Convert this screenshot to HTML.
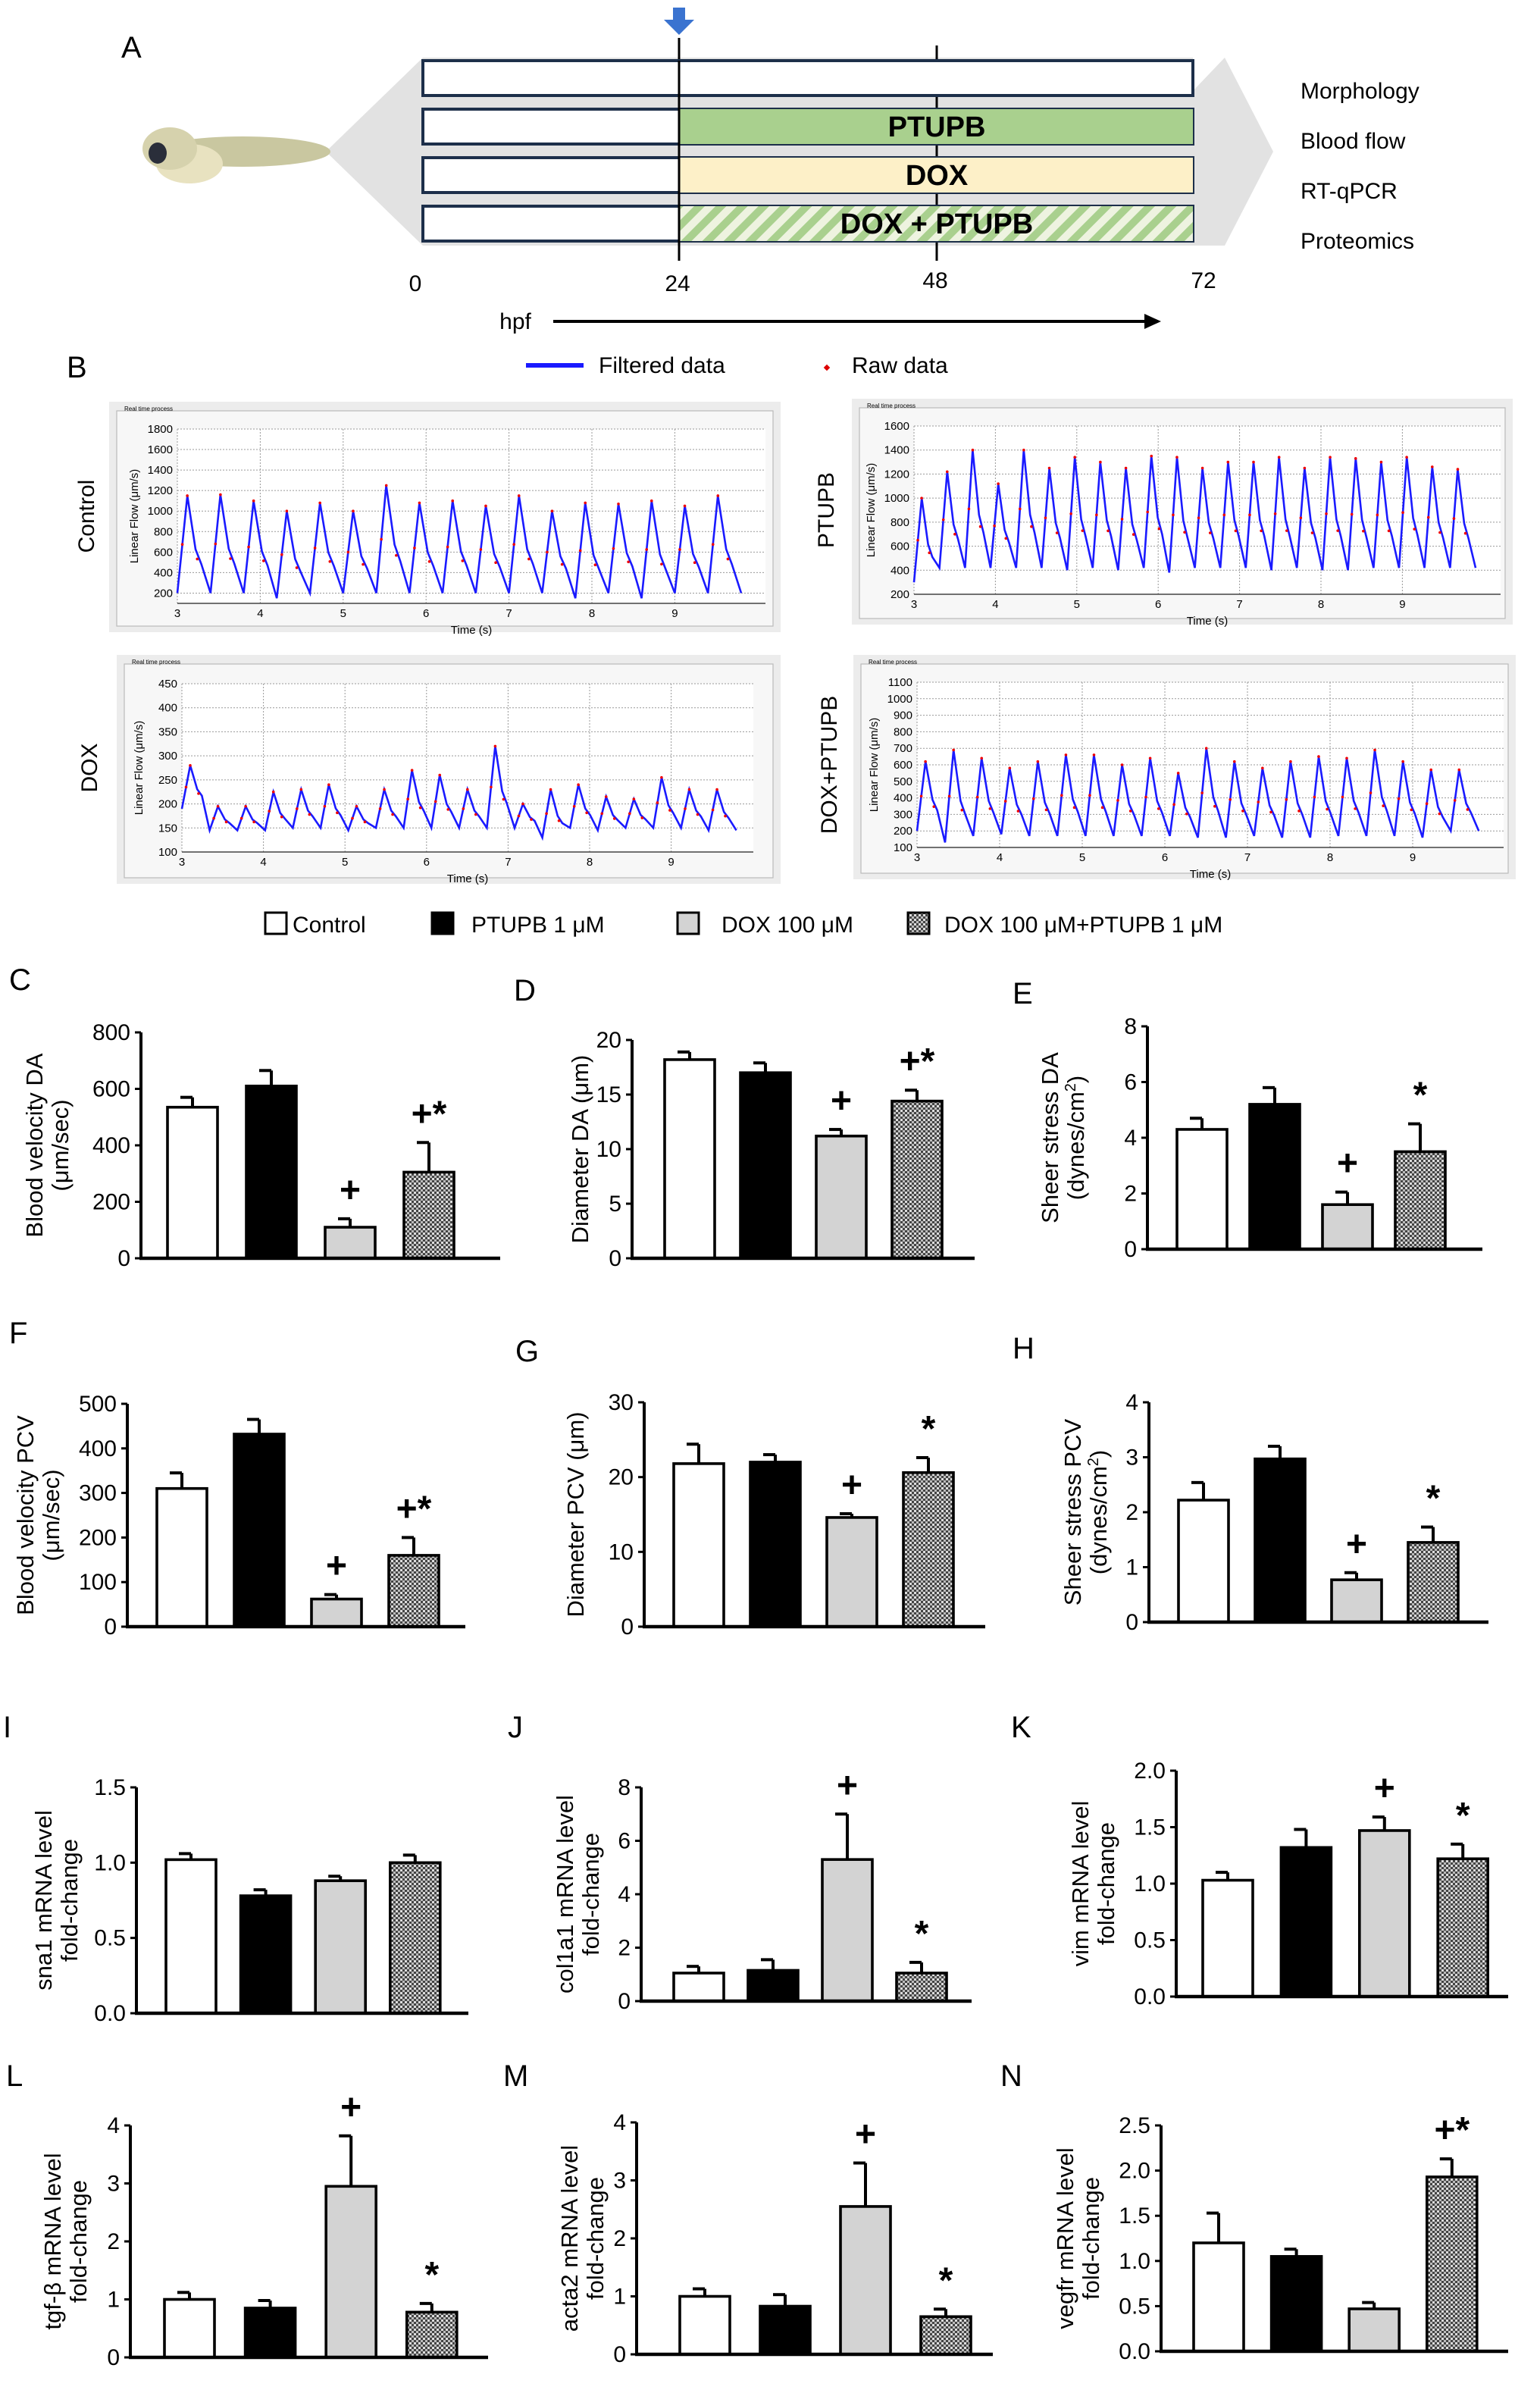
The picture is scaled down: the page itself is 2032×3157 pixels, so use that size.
<!DOCTYPE html>
<html><head><meta charset="utf-8"><style>
html,body{margin:0;padding:0;background:#fff}
svg{display:block}
text{font-family:"Liberation Sans",sans-serif}
</style></head><body>
<svg id="fig" xmlns="http://www.w3.org/2000/svg" width="2032" height="3157" viewBox="0 0 1016 1578.5">
<defs>
<pattern id="hatch" width="3" height="3" patternUnits="userSpaceOnUse">
<rect width="3" height="3" fill="#444"/><rect width="1.5" height="1.5" fill="#ddd"/><rect x="1.5" y="1.5" width="1.5" height="1.5" fill="#bbb"/>
</pattern>
<pattern id="stripes" width="10" height="10" patternUnits="userSpaceOnUse" patternTransform="rotate(45)">
<rect width="10" height="10" fill="#eef3e0"/><rect width="5" height="10" fill="#a9d08e"/>
</pattern>
</defs>
<g id="panelA">
<text x="80" y="38" font-size="20">A</text>
<polygon points="215,100 279,38 787,38 787,60 808,38 840,100 808,162 787,162 279,162" fill="#e2e2e2"/>
<g>
<ellipse cx="160" cy="100" rx="58" ry="10" fill="#c9c7a0"/>
<ellipse cx="125" cy="108" rx="22" ry="13" fill="#e8e2c0"/>
<ellipse cx="112" cy="98" rx="18" ry="14" fill="#d6d2ad"/>
<ellipse cx="104" cy="101" rx="6" ry="7" fill="#2a2e3a"/>
</g>
<line x1="448" y1="25" x2="448" y2="172" stroke="#000" stroke-width="1.5"/>
<line x1="618" y1="30" x2="618" y2="172" stroke="#000" stroke-width="1.5"/>
<rect x="279" y="40" width="508" height="23" fill="#fff" stroke="#1d2f4a" stroke-width="2"/>
<rect x="279" y="72" width="508" height="23" fill="#fff" stroke="#1d2f4a" stroke-width="2"/>
<rect x="448" y="72" width="339" height="23" fill="#a9d08e"/>
<rect x="279" y="104" width="508" height="23" fill="#fff" stroke="#1d2f4a" stroke-width="2"/>
<rect x="448" y="104" width="339" height="23" fill="#fdf0c8"/>
<rect x="279" y="136" width="508" height="23" fill="#fff" stroke="#1d2f4a" stroke-width="2"/>
<rect x="448" y="136" width="339" height="23" fill="url(#stripes)"/>
<line x1="448" y1="40" x2="448" y2="172" stroke="#000" stroke-width="1.5"/>
<text x="618" y="90" font-size="19" font-weight="bold" text-anchor="middle">PTUPB</text>
<text x="618" y="122" font-size="19" font-weight="bold" text-anchor="middle">DOX</text>
<text x="618" y="154" font-size="19" font-weight="bold" text-anchor="middle">DOX + PTUPB</text>
<polygon points="444,5 452,5 452,13 458,13 448,23 438,13 444,13" fill="#3a73d0"/>
<text x="274" y="192" font-size="15" text-anchor="middle">0</text>
<text x="447" y="192" font-size="15" text-anchor="middle">24</text>
<text x="617" y="190" font-size="15" text-anchor="middle">48</text>
<text x="794" y="190" font-size="15" text-anchor="middle">72</text>
<text x="340" y="217" font-size="15" text-anchor="middle">hpf</text>
<line x1="365" y1="212" x2="757" y2="212" stroke="#000" stroke-width="2"/>
<polygon points="766,212 755,207 755,217" fill="#000"/>
<text x="858" y="65" font-size="15">Morphology</text>
<text x="858" y="98" font-size="15">Blood flow</text>
<text x="858" y="131" font-size="15">RT-qPCR</text>
<text x="858" y="164" font-size="15">Proteomics</text>
</g>
<g id="panelB">
<text x="44" y="249" font-size="20">B</text>
<line x1="347" y1="241" x2="385" y2="241" stroke="#1a1aff" stroke-width="3"/>
<text x="395" y="246" font-size="15">Filtered data</text>
<rect x="544" y="241" width="3" height="3" fill="#d00" transform="rotate(45 545.5 242.5)"/>
<text x="562" y="246" font-size="15">Raw data</text>
</g>
<g id="panelLegend">
<rect x="175" y="602" width="14" height="14" fill="#fff" stroke="#000" stroke-width="1.5"/>
<text x="193" y="615" font-size="15">Control</text>
<rect x="285" y="602" width="14" height="14" fill="#000" stroke="#000" stroke-width="1.5"/>
<text x="311" y="615" font-size="15">PTUPB 1 μM</text>
<rect x="447" y="602" width="14" height="14" fill="#d3d3d3" stroke="#000" stroke-width="1.5"/>
<text x="476" y="615" font-size="15">DOX 100 μM</text>
<rect x="599" y="602" width="14" height="14" fill="url(#hatch)" stroke="#000" stroke-width="1.5"/>
<text x="623" y="615" font-size="15">DOX 100 μM+PTUPB 1 μM</text>
</g>
</svg>
<script>
// ---- Panel B waveform data (peak/trough per heartbeat) ----
const ctrlPeaks=[1150,1160,1100,1000,1080,1000,1250,1080,1100,1050,1150,1000,1080,1070,1100,1050,1150];
const ctrlTroughs=[200,200,200,150,200,200,200,200,200,200,200,200,150,200,150,200,200];
const ptPeaks=[1000,1220,1400,1120,1400,1250,1340,1300,1250,1350,1340,1250,1300,1300,1340,1250,1340,1330,1300,1340,1260,1240];
const ptTroughs=[300,420,420,420,420,420,400,420,400,420,380,420,420,420,400,420,400,400,420,420,420,420];
const doxPeaks=[280,195,195,225,230,240,195,230,270,260,230,320,200,230,240,215,210,255,230,230];
const doxTroughs=[190,145,145,145,150,150,145,150,150,150,150,150,150,130,150,145,150,150,150,145];
const dpPeaks=[620,690,640,580,620,660,660,600,640,550,700,620,580,620,650,640,690,620,570,570];
const dpTroughs=[200,130,170,180,170,170,170,170,170,170,160,160,170,160,160,170,170,170,160,200];
const ctrlTicks=[200,400,600,800,1000,1200,1400,1600,1800];
const ptTicks=[200,400,600,800,1000,1200,1400,1600];
const doxTicks=[100,150,200,250,300,350,400,450];
const dpTicks=[100,200,300,400,500,600,700,800,900,1000,1100];
const timeTicks=[3,4,5,6,7,8,9];

const NS="http://www.w3.org/2000/svg";
const svg=document.getElementById('fig');
function mk(tag,attrs,parent,txt){const e=document.createElementNS(NS,tag);for(const k in attrs)e.setAttribute(k,attrs[k]);if(txt!==undefined)e.textContent=txt;(parent||svg).appendChild(e);return e;}

function flowPlot(o,peaks,troughs,ticks){
  const g=mk('g',{});
  
  
  const bg=mk('rect',{x:o.bx,y:o.by,width:o.bw,height:o.bh,fill:'#ececec'},g);
  
  
  mk('rect',{x:o.bx+5,y:o.by+6,width:o.bw-10,height:o.bh-10,fill:'#f7f7f7',stroke:'#bbb','stroke-width':0.6},g);
  mk('text',{x:o.bx+10,y:o.by+6,'font-size':4},g,'Real time process');
  mk('rect',{x:o.x0,y:o.yTop,width:o.x1-o.x0,height:o.yBot-o.yTop,fill:'#fff'},g);
  const ys=v=>o.yBot-(v-o.vmin)/(o.vmax-o.vmin)*(o.yBot-o.yTop);
  const xs=t=>o.x0+(t-3)*o.sec;
  ticks.forEach(v=>{
    mk('line',{x1:o.x0,x2:o.x1,y1:ys(v),y2:ys(v),stroke:'#999','stroke-width':0.5,'stroke-dasharray':'1 1'},g);
    const t=mk('text',{x:o.x0-3,y:ys(v)+2.5,'font-size':7.5,'text-anchor':'end'},g,v);
    
    
  });
  timeTicks.forEach(s=>{
    mk('line',{x1:xs(s),x2:xs(s),y1:o.yTop,y2:o.yBot,stroke:'#999','stroke-width':0.5,'stroke-dasharray':'1 1'},g);
    const t=mk('text',{x:xs(s),y:o.yBot+9,'font-size':7.5,'text-anchor':'middle'},g,s);
    
    
  });
  mk('line',{x1:o.x0,x2:o.x1,y1:o.yBot,y2:o.yBot,stroke:'#444','stroke-width':0.8},g);
  mk('text',{x:(o.x0+o.x1)/2,y:o.yBot+20,'font-size':7.5,'text-anchor':'middle'},g,'Time (s)');
  mk('text',{x:0,y:0,'font-size':7.5,'text-anchor':'middle',transform:`translate(${o.x0-26},${(o.yTop+o.yBot)/2}) rotate(-90)`},g,'Linear Flow (μm/s)');
  const lab=mk('text',{x:0,y:0,'font-size':15,'text-anchor':'middle',transform:`translate(${o.lx},${(o.yTop+o.yBot)/2}) rotate(-90)`},g,o.label);
  
  
  const n=peaks.length, per=o.dur/n;
  let d='', dots=[];
  for(let i=0;i<n;i++){
    const t0=3+i*per, p=peaks[i], tr=troughs[i], nt=troughs[Math.min(i+1,n-1)];
    const pts=[[t0,tr],[t0+per*0.3,p],[t0+per*0.55,tr+(p-tr)*0.45],[t0+per*0.72,tr+(p-tr)*0.3],[t0+per,nt]];
    pts.forEach((q,j)=>{d+=(i===0&&j===0?'M':'L')+xs(q[0]).toFixed(1)+','+ys(q[1]).toFixed(1);});
    dots.push([t0+per*0.3,p],[t0+per*0.15,(p+tr)/2],[t0+per*0.6,tr+(p-tr)*0.35]);
  }
  const path=mk('path',{d:d,fill:'none',stroke:'#1a1aff','stroke-width':1.3},g);
  
  
  dots.forEach(q=>{
    const c=mk('circle',{cx:xs(q[0]),cy:ys(q[1]),r:0.9,fill:'#e00'},g);
    
    
  });
}
flowPlot({name:'flow-control',bx:72,by:265,bw:443,bh:152,x0:117,x1:505,yTop:283,yBot:398,vmin:100,vmax:1800,sec:54.7,dur:6.8,lx:62,label:'Control'},ctrlPeaks,ctrlTroughs,ctrlTicks);
flowPlot({name:'flow-ptupb',bx:562,by:263,bw:436,bh:149,x0:603,x1:990,yTop:281,yBot:392,vmin:200,vmax:1600,sec:53.7,dur:6.9,lx:550,label:'PTUPB'},ptPeaks,ptTroughs,ptTicks);
flowPlot({name:'flow-dox',bx:77,by:432,bw:438,bh:151,x0:120,x1:497,yTop:451,yBot:562,vmin:100,vmax:450,sec:53.8,dur:6.8,lx:64,label:'DOX'},doxPeaks,doxTroughs,doxTicks);
flowPlot({name:'flow-dox-ptupb',bx:563,by:432,bw:437,bh:148,x0:605,x1:992,yTop:450,yBot:559,vmin:100,vmax:1100,sec:54.5,dur:6.8,lx:552,label:'DOX+PTUPB'},dpPeaks,dpTroughs,dpTicks);

// ---- Bar chart data ----
const groups=['Control','PTUPB 1 μM','DOX 100 μM','DOX 100 μM+PTUPB 1 μM'];
const cVals=[535,610,110,305], cErr=[35,55,30,105], cMarks=['','','+','+*'], cTicks=[0,200,400,600,800];
const dVals=[18.2,17,11.2,14.4], dErr=[0.7,0.9,0.6,1.0], dMarks=['','','+','+*'], dTicks=[0,5,10,15,20];
const eVals=[4.3,5.2,1.6,3.5], eErr=[0.4,0.6,0.45,1.0], eMarks=['','','+','*'], eTicks=[0,2,4,6,8];
const fVals=[310,432,62,160], fErr=[35,33,10,40], fMarks=['','','+','+*'], fTicks=[0,100,200,300,400,500];
const gVals=[21.8,22,14.6,20.6], gErr=[2.6,1.0,0.5,2.0], gMarks=['','','+','*'], gTicks=[0,10,20,30];
const hVals=[2.22,2.97,0.77,1.45], hErr=[0.32,0.23,0.13,0.28], hMarks=['','','+','*'], hTicks=[0,1,2,3,4];
const iVals=[1.02,0.78,0.88,1.0], iErr=[0.04,0.04,0.03,0.05], iMarks=['','','',''], iTicks=['0.0','0.5','1.0','1.5'];
const jVals=[1.05,1.15,5.3,1.05], jErr=[0.25,0.4,1.7,0.4], jMarks=['','','+','*'], jTicks=[0,2,4,6,8];
const kVals=[1.03,1.32,1.47,1.22], kErr=[0.07,0.16,0.12,0.13], kMarks=['','','+','*'], kTicks=['0.0','0.5','1.0','1.5','2.0'];
const lVals=[1.0,0.85,2.95,0.78], lErr=[0.12,0.13,0.87,0.15], lMarks=['','','+','*'], lTicks=[0,1,2,3,4];
const mVals=[1.0,0.83,2.55,0.65], mErr=[0.13,0.2,0.75,0.13], mMarks=['','','+','*'], mTicks=[0,1,2,3,4];
const nVals=[1.2,1.05,0.47,1.93], nErr=[0.33,0.08,0.07,0.2], nMarks=['','','','+*'], nTicks=['0.0','0.5','1.0','1.5','2.0','2.5'];

const fills=['#fff','#000','#d3d3d3','url(#hatch)'];
function barChart(o,vals,errs,marks,ticks){
  const g=mk('g',{});
  
  
  const pl=mk('text',{x:o.lx,y:o.ly,'font-size':20},g,o.letter);
  
  
  const max=parseFloat(ticks[ticks.length-1]);
  const ys=v=>o.yBot-v/max*(o.yBot-o.yTop);
  const xs=i=>o.x0+o.off+i*o.sp;
  const bw=33;
  vals.forEach((v,i)=>{
    const cx=xs(i), top=ys(v+errs[i]);
    mk('line',{x1:cx,x2:cx,y1:ys(v),y2:top,stroke:'#000','stroke-width':2},g);
    mk('line',{x1:cx-8,x2:cx,y1:top,y2:top,stroke:'#000','stroke-width':2},g);
    const r=mk('rect',{x:cx-bw/2,y:ys(v),width:bw,height:o.yBot-ys(v),fill:fills[i],stroke:'#000','stroke-width':1.8},g);
    
    
    if(marks[i]){
      const m=mk('text',{x:cx,y:top-11,'font-size':24,'font-weight':'bold','text-anchor':'middle'},g,marks[i]);
      
      
    }
  });
  mk('line',{x1:o.x0,x2:o.x0,y1:o.yTop,y2:o.yBot+1,stroke:'#000','stroke-width':2},g);
  mk('line',{x1:o.x0-1,x2:o.x1,y1:o.yBot,y2:o.yBot,stroke:'#000','stroke-width':2.2},g);
  ticks.forEach(t=>{
    const y=ys(parseFloat(t));
    mk('line',{x1:o.x0-4,x2:o.x0,y1:y,y2:y,stroke:'#000','stroke-width':1.5},g);
    const tl=mk('text',{x:o.x0-7,y:y+5,'font-size':15,'text-anchor':'end'},g,t);
    
    
  });
  const cy=(o.yTop+o.yBot)/2;
  o.ylab.forEach((s,k)=>{
    const t=mk('text',{x:0,y:0,'font-size':15.5,'text-anchor':'middle',transform:`translate(${o.yl+k*17},${cy}) rotate(-90)`},g);
    t.innerHTML=s;
    
    
  });
}
barChart({name:'chart-c-velocity-da',letter:'C',lx:6,ly:653,x0:93,x1:330,yTop:681,yBot:830,off:34,sp:52,yl:28,ylab:['Blood velocity DA','(μm/sec)']},cVals,cErr,cMarks,cTicks);
barChart({name:'chart-d-diameter-da',letter:'D',lx:339,ly:660,x0:417,x1:643,yTop:686,yBot:830,off:38,sp:50,yl:388,ylab:['Diameter DA (μm)']},dVals,dErr,dMarks,dTicks);
barChart({name:'chart-e-shear-da',letter:'E',lx:668,ly:662,x0:757,x1:978,yTop:677,yBot:824,off:36,sp:48,yl:698,ylab:['Sheer stress DA','(dynes/cm<tspan baseline-shift="super" font-size="10">2</tspan>)']},eVals,eErr,eMarks,eTicks);
barChart({name:'chart-f-velocity-pcv',letter:'F',lx:6,ly:886,x0:84,x1:307,yTop:926,yBot:1073,off:36,sp:51,yl:22,ylab:['Blood velocity PCV','(μm/sec)']},fVals,fErr,fMarks,fTicks);
barChart({name:'chart-g-diameter-pcv',letter:'G',lx:340,ly:898,x0:425,x1:650,yTop:925,yBot:1073,off:36,sp:50.5,yl:385,ylab:['Diameter PCV (μm)']},gVals,gErr,gMarks,gTicks);
barChart({name:'chart-h-shear-pcv',letter:'H',lx:668,ly:896,x0:758,x1:982,yTop:925,yBot:1070,off:36,sp:50.5,yl:713,ylab:['Sheer stress PCV','(dynes/cm<tspan baseline-shift="super" font-size="10">2</tspan>)']},hVals,hErr,hMarks,hTicks);
barChart({name:'chart-i-sna1',letter:'I',lx:2,ly:1146,x0:90,x1:309,yTop:1179,yBot:1328,off:36,sp:49.3,yl:34,ylab:['sna1 mRNA level','fold-change']},iVals,iErr,iMarks,iTicks);
barChart({name:'chart-j-col1a1',letter:'J',lx:335,ly:1146,x0:423,x1:641,yTop:1179,yBot:1320,off:38,sp:49,yl:378,ylab:['col1a1 mRNA level','fold-change']},jVals,jErr,jMarks,jTicks);
barChart({name:'chart-k-vim',letter:'K',lx:667,ly:1146,x0:776,x1:995,yTop:1168,yBot:1317,off:34,sp:51.7,yl:718,ylab:['vim mRNA level','fold-change']},kVals,kErr,kMarks,kTicks);
barChart({name:'chart-l-tgfb',letter:'L',lx:4,ly:1376,x0:86,x1:322,yTop:1402,yBot:1555,off:39,sp:53.3,yl:40,ylab:['tgf-β mRNA level','fold-change']},lVals,lErr,lMarks,lTicks);
barChart({name:'chart-m-acta2',letter:'M',lx:332,ly:1376,x0:420,x1:655,yTop:1400,yBot:1553,off:45,sp:53,yl:381,ylab:['acta2 mRNA level','fold-change']},mVals,mErr,mMarks,mTicks);
barChart({name:'chart-n-vegfr',letter:'N',lx:660,ly:1376,x0:766,x1:995,yTop:1402,yBot:1551,off:38,sp:51.3,yl:708,ylab:['vegfr mRNA level','fold-change']},nVals,nErr,nMarks,nTicks);
</script>
</body></html>
